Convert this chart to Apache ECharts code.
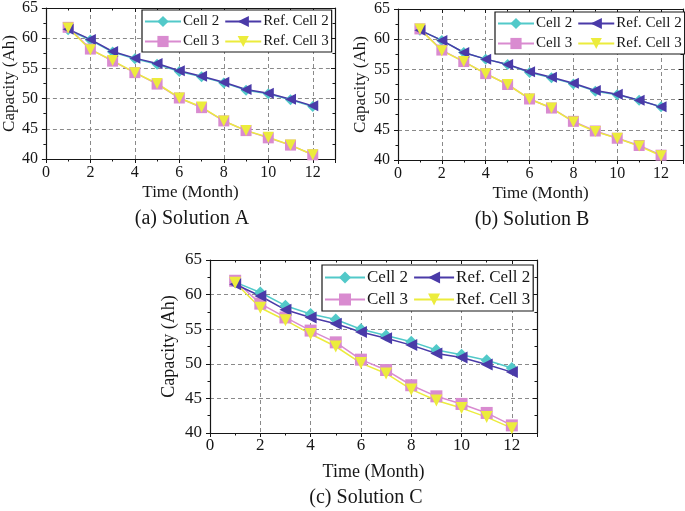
<!DOCTYPE html>
<html>
<head>
<meta charset="utf-8">
<script src="https://cdn.jsdelivr.net/npm/echarts@6/dist/echarts.min.js"></script>
<style>html,body{margin:0;padding:0;background:#fff}#c{width:685px;height:511px}</style>
</head>
<body>
<div id="c"></div>
<script>
var months = [1,2,3,4,5,6,7,8,9,10,11,12];
var xTicks = [0,2,4,6,8,10,12];
var yTicks = [40,45,50,55,60,65];
var seriesNames = ['Cell 2','Ref. Cell 2','Cell 3','Ref. Cell 3'];
var panelTitles = ['(a) Solution A','(b) Solution B','(c) Solution C'];

var refCell2 = [61.5,59.8,57.8,56.7,55.8,54.6,53.7,52.7,51.5,50.9,49.9,48.8];
var refCell3 = [61.7,58.1,56.3,54.3,52.5,50.1,48.6,46.3,44.7,43.6,42.3,40.7];

var cell2A = [61.4,59.7,57.7,56.6,55.7,54.5,53.6,52.6,51.4,50.8,49.8,48.7];
var cell3A = [61.8,58.2,56.2,54.3,52.4,50.1,48.5,46.3,44.7,43.5,42.3,40.7];
var cell2B = [61.5,59.8,57.8,56.7,55.8,54.5,53.6,52.6,51.4,50.8,49.9,48.8];
var cell3B = [61.7,58.2,56.3,54.3,52.5,50.1,48.6,46.4,44.8,43.6,42.4,40.8];
var cell2C = [61.8,60.3,58.4,57.2,56.4,55.0,54.1,53.2,52.0,51.3,50.5,49.4];
var cell3C = [62.0,58.7,56.7,54.8,53.1,50.6,49.1,46.9,45.3,44.2,42.9,41.1];

var colors = {'Cell 2':'#52c9c9','Ref. Cell 2':'#4a3aa8','Cell 3':'#d98bd0','Ref. Cell 3':'#ecec3c'};
var symbols = {
  'Cell 2':'diamond',
  'Ref. Cell 2':'path://M0,5 L10,0 L10,10 Z',
  'Cell 3':'rect',
  'Ref. Cell 3':'path://M0,0 L10,0 L5,9 Z'
};

var panels = [
  {grid:{left:42,top:6,width:293,height:153}, cell2:cell2A, cell3:cell3A, fs:16, nfs:17, cfs:20, sym:11,
   xMargin:6, nameGapX:25, nameGapY:25, caption:[192,219],
   legend:{left:142,top:10,fs:15,iw:36,ih:14,w:190}},
  {grid:{left:398,top:9,width:285,height:151}, cell2:cell2B, cell3:cell3B, fs:16, nfs:17, cfs:20, sym:11,
   xMargin:6, nameGapX:25, nameGapY:29, caption:[532,220],
   legend:{left:495,top:12,fs:15,iw:36,ih:14,w:190}},
  {grid:{left:210,top:260,width:327,height:173}, cell2:cell2C, cell3:cell3C, fs:17, nfs:18, cfs:20, sym:12,
   xMargin:4, nameGapX:30, nameGapY:32, caption:[366,498],
   legend:{left:322,top:265,fs:17,iw:40,ih:15,w:210}}
];

function pairs(vals){ return months.map(function(m,i){ return [m, vals[i]]; }); }

var font = '"Liberation Serif","Times New Roman",serif';
var ink = '#161616';
var grids=[], xAxes=[], yAxes=[], series=[], legends=[], graphics=[];
panels.forEach(function(p, gi){
  grids.push(Object.assign({show:false}, p.grid));
  xAxes.push({
    type:'value', gridIndex:gi, min:0, max:13, interval:2, position:'bottom',
    name:'Time (Month)', nameLocation:'middle', nameGap:p.nameGapX,
    nameTextStyle:{fontFamily:font, fontSize:p.nfs, color:ink},
    axisLine:{show:true, onZero:false, lineStyle:{color:ink, width:1.2}},
    axisTick:{show:true, inside:false, length:4, lineStyle:{color:ink}},
    minorTick:{show:true, splitNumber:2, length:2.5, lineStyle:{color:ink}},
    axisLabel:{fontFamily:font, fontSize:p.fs, color:ink, margin:p.xMargin, showMaxLabel:false,
      formatter:function(v){ return xTicks.indexOf(v) >= 0 ? String(v) : ''; }},
    splitLine:{show:true, lineStyle:{color:'#8a8a8a', type:[4,3], width:1}}
  });
  xAxes.push({
    type:'value', gridIndex:gi, min:0, max:13, interval:2, position:'top',
    axisLine:{show:true, onZero:false, lineStyle:{color:ink, width:1.2}},
    axisTick:{show:true, inside:true, length:4, lineStyle:{color:ink}},
    minorTick:{show:true, splitNumber:2, length:2.5, lineStyle:{color:ink}},
    axisLabel:{show:false}, splitLine:{show:false}
  });
  yAxes.push({
    type:'value', gridIndex:gi, min:40, max:65, interval:5, position:'left',
    name:'Capacity (Ah)', nameLocation:'middle', nameGap:p.nameGapY,
    nameTextStyle:{fontFamily:font, fontSize:p.nfs, color:ink},
    axisLine:{show:true, onZero:false, lineStyle:{color:ink, width:1.2}},
    axisTick:{show:true, inside:false, length:4, lineStyle:{color:ink}},
    minorTick:{show:true, splitNumber:2, length:2.5, lineStyle:{color:ink}},
    axisLabel:{fontFamily:font, fontSize:p.fs, color:ink, margin:8,
      formatter:function(v){ return yTicks.indexOf(v) >= 0 ? String(v) : ''; }},
    splitLine:{show:true, lineStyle:{color:'#8a8a8a', type:[4,3], width:1}}
  });
  yAxes.push({
    type:'value', gridIndex:gi, min:40, max:65, interval:5, position:'right',
    axisLine:{show:true, onZero:false, lineStyle:{color:ink, width:1.2}},
    axisTick:{show:true, inside:true, length:4, lineStyle:{color:ink}},
    minorTick:{show:true, splitNumber:2, length:2.5, lineStyle:{color:ink}},
    axisLabel:{show:false}, splitLine:{show:false}
  });
  var dataMap = {'Cell 2':p.cell2, 'Ref. Cell 2':refCell2, 'Cell 3':p.cell3, 'Ref. Cell 3':refCell3};
  ['Cell 2','Cell 3','Ref. Cell 2','Ref. Cell 3'].forEach(function(n){
    series.push({
      type:'line', name:n, xAxisIndex:gi*2, yAxisIndex:gi*2, data:pairs(dataMap[n]),
      symbol:symbols[n], symbolSize:p.sym, showAllSymbol:true,
      lineStyle:{color:colors[n], width:1.5}, itemStyle:{color:colors[n]},
      animation:false
    });
  });
  legends.push({
    data:seriesNames, left:p.legend.left, top:p.legend.top,
    orient:'horizontal', itemWidth:p.legend.iw, itemHeight:p.legend.ih, itemGap:5,
    width:p.legend.w,
    padding:[4,3,3,2], borderColor:ink, borderWidth:1.2, backgroundColor:'#fff',
    selectedMode:false,
    textStyle:{fontFamily:font, fontSize:p.legend.fs, color:ink, padding:[0,0,0,-3]}
  });
  graphics.push({type:'text', x:p.caption[0], y:p.caption[1],
    style:{text:panelTitles[gi], fontFamily:font, fontSize:p.cfs, fill:ink, textAlign:'center', textVerticalAlign:'middle'}});
});

var chart = echarts.init(document.getElementById('c'), null, {renderer:'canvas'});
chart.setOption({
  animation:false,
  backgroundColor:'#fff',
  grid:grids, xAxis:xAxes, yAxis:yAxes, series:series, legend:legends, graphic:graphics
});
</script>
</body>
</html>
